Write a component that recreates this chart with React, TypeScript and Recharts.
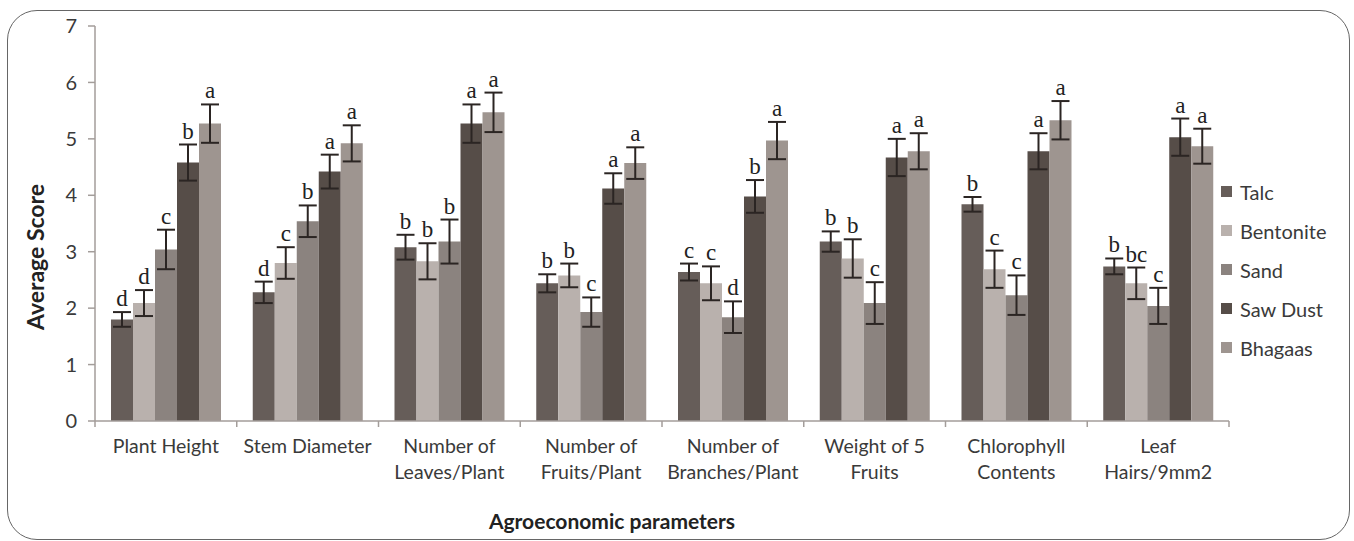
import { BarChart, Bar, XAxis, YAxis, ErrorBar, LabelList, Legend } from 'recharts'

// categories + tick label lines
const categories = [
  'Plant Height',
  'Stem Diameter',
  'Number of Leaves/Plant',
  'Number of Fruits/Plant',
  'Number of Branches/Plant',
  'Weight of 5 Fruits',
  'Chlorophyll Contents',
  'Leaf Hairs/9mm2',
]
const tickLines = [
  ['Plant Height'],
  ['Stem Diameter'],
  ['Number of', 'Leaves/Plant'],
  ['Number of', 'Fruits/Plant'],
  ['Number of', 'Branches/Plant'],
  ['Weight of 5', 'Fruits'],
  ['Chlorophyll', 'Contents'],
  ['Leaf', 'Hairs/9mm2'],
]
const yTicks = [0, 1, 2, 3, 4, 5, 6, 7]

const talc = [1.8, 2.28, 3.08, 2.44, 2.64, 3.18, 3.84, 2.74]
const talcErr = [0.13, 0.19, 0.22, 0.16, 0.15, 0.18, 0.13, 0.14]
const talcLetters = ['d', 'd', 'b', 'b', 'c', 'b', 'b', 'b']

const bentonite = [2.09, 2.8, 2.83, 2.58, 2.44, 2.88, 2.69, 2.44]
const bentoniteErr = [0.23, 0.28, 0.32, 0.21, 0.3, 0.34, 0.33, 0.28]
const bentoniteLetters = ['d', 'c', 'b', 'b', 'c', 'b', 'c', 'bc']

const sand = [3.04, 3.54, 3.18, 1.93, 1.84, 2.09, 2.23, 2.04]
const sandErr = [0.35, 0.28, 0.39, 0.26, 0.28, 0.37, 0.35, 0.32]
const sandLetters = ['c', 'b', 'b', 'c', 'd', 'c', 'c', 'c']

const sawDust = [4.58, 4.42, 5.27, 4.12, 3.98, 4.67, 4.78, 5.03]
const sawDustErr = [0.32, 0.3, 0.34, 0.27, 0.29, 0.33, 0.32, 0.33]
const sawDustLetters = ['b', 'a', 'a', 'a', 'b', 'a', 'a', 'a']

const bhagaas = [5.27, 4.92, 5.47, 4.57, 4.97, 4.78, 5.33, 4.87]
const bhagaasErr = [0.34, 0.32, 0.35, 0.28, 0.33, 0.32, 0.34, 0.31]
const bhagaasLetters = ['a', 'a', 'a', 'a', 'a', 'a', 'a', 'a']

const series = [
  { key: 'talc', name: 'Talc', color: '#665d59' },
  { key: 'bentonite', name: 'Bentonite', color: '#b9b1ad' },
  { key: 'sand', name: 'Sand', color: '#8b837f' },
  { key: 'sawDust', name: 'Saw Dust', color: '#564d48' },
  { key: 'bhagaas', name: 'Bhagaas', color: '#9e9590' },
]

const rows = categories.map((c, i) => ({
  category: c,
  talc: talc[i], talcErr: talcErr[i], talcLetter: talcLetters[i],
  bentonite: bentonite[i], bentoniteErr: bentoniteErr[i], bentoniteLetter: bentoniteLetters[i],
  sand: sand[i], sandErr: sandErr[i], sandLetter: sandLetters[i],
  sawDust: sawDust[i], sawDustErr: sawDustErr[i], sawDustLetter: sawDustLetters[i],
  bhagaas: bhagaas[i], bhagaasErr: bhagaasErr[i], bhagaasLetter: bhagaasLetters[i],
}))

const W = 1354
const H = 541
const MARGIN = { top: 26, right: 125, bottom: 0, left: 0 }
const Y_AXIS_W = 95
const BAND = (W - MARGIN.right - Y_AXIS_W) / categories.length
const FONT = 'Lato, "Open Sans", sans-serif'
const AXIS_COLOR = '#a39d9a'
const TEXT_COLOR = '#3a3a3a'

function XTick(props: any) {
  const { x, y, payload, index } = props
  const lines = tickLines[index] ?? [payload.value]
  return (
    <g>
      <line x1={x - BAND / 2} x2={x - BAND / 2} y1={y} y2={y + 6} stroke={AXIS_COLOR} strokeWidth={1.5} />
      {index === categories.length - 1 && (
        <line x1={x + BAND / 2} x2={x + BAND / 2} y1={y} y2={y + 6} stroke={AXIS_COLOR} strokeWidth={1.5} />
      )}
      <text x={x} y={y + 32} textAnchor="middle" fontFamily={FONT} fontSize={19.5} fill={TEXT_COLOR}>
        {lines.map((l: string, i: number) => (
          <tspan key={i} x={x} dy={i === 0 ? 0 : 26}>{l}</tspan>
        ))}
      </text>
    </g>
  )
}

// significance letter above each error bar
const letterLabel = (key: string) => (props: any) => {
  const vb = props.viewBox ?? props
  const x = vb.x ?? props.x
  const y = vb.y ?? props.y
  const width = vb.width ?? props.width
  const height = vb.height ?? props.height
  const row: any = rows[props.index]
  if (!row) return null
  const ppu = Math.abs(height) / row[key]
  const top = Math.min(y, y + height) - row[key + 'Err'] * ppu
  return (
    <text x={x + width / 2} y={top - 6} textAnchor="middle" fontFamily='"Liberation Serif", "Times New Roman", serif' fontSize={23} fill="#222">
      {props.value}
    </text>
  )
}

function LegendContent() {
  return (
    <div style={{ fontFamily: FONT, fontSize: 20, color: TEXT_COLOR }}>
      {series.map((s) => (
        <div key={s.key} style={{ display: 'flex', alignItems: 'center', height: 39 }}>
          <span style={{ display: 'inline-block', width: 11, height: 11, background: s.color, marginRight: 8 }} />
          <span>{s.name}</span>
        </div>
      ))}
    </div>
  )
}

export default function App() {
  return (
    <div style={{ position: 'absolute', left: 0, top: 0, width: W, height: H, overflow: 'hidden', background: '#fff' }}>
      <div
        style={{
          position: 'absolute', left: 7, top: 10, width: 1341, height: 528,
          border: '1.5px solid #666', borderRadius: 30,
        }}
      />
      <BarChart width={W} height={H} data={rows} margin={MARGIN} barCategoryGap={16} barGap={0}>
        <YAxis
          domain={[0, 7]}
          ticks={yTicks}
          width={Y_AXIS_W}
          interval={0}
          tickSize={7}
          tickMargin={11}
          stroke={AXIS_COLOR}
          strokeWidth={1.5}
          tick={{ fill: TEXT_COLOR, fontSize: 20, fontFamily: FONT }}
          label={{
            content: () => (
              <text x={35} y={257} transform="rotate(-90 35 257)" textAnchor="middle" dominantBaseline="central" fontFamily={FONT} fontWeight={700} fontSize={23} fill="#222">
                Average Score
              </text>
            ),
          }}
        />
        <XAxis
          dataKey="category"
          height={120}
          interval={0}
          tickSize={0}
          tickMargin={0}
          stroke={AXIS_COLOR}
          strokeWidth={1.5}
          tick={<XTick />}
          label={{
            content: () => (
              <text x={612} y={520} textAnchor="middle" dominantBaseline="central" fontFamily={FONT} fontWeight={700} fontSize={21} fill="#222">
                Agroeconomic parameters
              </text>
            ),
          }}
        />
        <Legend
          layout="vertical"
          align="center"
          verticalAlign="middle"
          content={<LegendContent />}
          wrapperStyle={{ left: 1221, top: 172, width: 133 }}
        />
        {series.map((s) => (
          <Bar key={s.key} dataKey={s.key} name={s.name} fill={s.color} isAnimationActive={false}>
            <ErrorBar dataKey={s.key + 'Err'} width={9} strokeWidth={2} stroke="#2b2523" direction="y" />
            <LabelList dataKey={s.key + 'Letter'} content={letterLabel(s.key)} />
          </Bar>
        ))}
      </BarChart>
    </div>
  )
}
